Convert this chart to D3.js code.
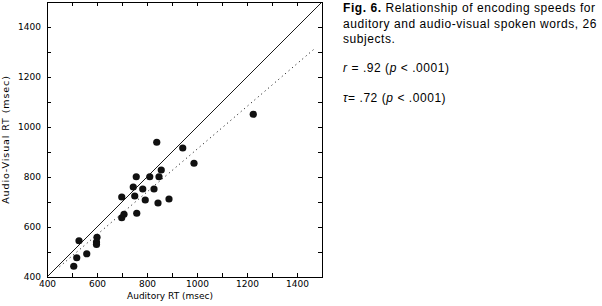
<!DOCTYPE html>
<html>
<head>
<meta charset="utf-8">
<script src="https://cdn.jsdelivr.net/npm/d3@7"></script>
<style>
  body { margin: 0; background: #fff; }
  svg { display: block; }
  .axis text { font-family: "DejaVu Sans", sans-serif; font-size: 9px; fill: #000; }
  .axis path, .axis line { stroke: #000; shape-rendering: crispEdges; }
  .axis-title { font-family: "DejaVu Sans", sans-serif; font-size: 9px; fill: #000; }
  .caption { font-family: "Liberation Sans", Arial, sans-serif; font-size: 12px; fill: #000; }
</style>
</head>
<body>
<script>
/*
 * Scatterplot of encoding speeds, auditory vs audio-visual words.
 */

// canvas and plot box
const CANVAS_WIDTH = 602;
const CANVAS_HEIGHT = 306;
const PLOT_LEFT = 47;
const PLOT_RIGHT = 322;
const PLOT_TOP = 2;
const PLOT_BOT = 277;
const DOT_RADIUS = 3.6;
const TICK_LEN = 4;

// caption block
const CAPTION_X = 343;
const CAPTION_WIDTH = 254;

// data (msec), one entry per subject
const auditoryRT = [507, 519, 528, 559, 600, 598, 598, 699, 699, 708, 745, 751,
  757, 759, 783, 793, 811, 828, 844, 848, 857, 888, 839, 943, 988, 1225];
const audioVisualRT = [443, 477, 545, 493, 559, 540, 530, 720, 637, 651, 760, 724,
  801, 655, 752, 708, 801, 752, 696, 801, 828, 712, 939, 916, 855, 1051];

// axis ticks
const AXIS_DOMAIN = [400, 1500];
const MINOR_TICKS = d3.range(400, 1501, 100);
const LABEL_TICKS = [400, 600, 800, 1000, 1200, 1400];

// identity line and dotted regression line (ends)
const identityX = [400, 1500];
const identityY = [400, 1500];
const fitX = [450, 1470];
const fitY = [441, 1313];

// caption
const captionLines = [
  'Relationship of encoding speeds for',
  'auditory and audio-visual spoken words, 26',
  'subjects.'
];
const statLines = [
  { sym: 'r', val: ' = .92 (' },
  { sym: 'τ', val: '= .72 (' }
];

const svg = d3.select('body')
  .append('svg')
    .attr('width', CANVAS_WIDTH)
    .attr('height', CANVAS_HEIGHT);

const xScale = d3.scaleLinear()
    .domain(AXIS_DOMAIN)
    .range([PLOT_LEFT, PLOT_RIGHT]);

const yScale = d3.scaleLinear()
    .domain(AXIS_DOMAIN)
    .range([PLOT_BOT, PLOT_TOP]);

const labelFmt = d => LABEL_TICKS.includes(d) ? d : '';

/*
 * Box with inward ticks on all four sides.
 */
const addAxes = () => {
  svg.append('g')
      .attr('class', 'axis')
      .attr('transform', `translate(0, ${PLOT_BOT})`)
      .call(d3.axisBottom(xScale)
        .tickValues(MINOR_TICKS)
        .tickFormat(labelFmt)
        .tickSize(-TICK_LEN)
        .tickSizeOuter(0)
        .tickPadding(4));

  svg.append('g')
      .attr('class', 'axis')
      .attr('transform', `translate(${PLOT_LEFT}, 0)`)
      .call(d3.axisLeft(yScale)
        .tickValues(MINOR_TICKS)
        .tickFormat(labelFmt)
        .tickSize(-TICK_LEN)
        .tickSizeOuter(0)
        .tickPadding(6));

  svg.append('g')
      .attr('class', 'axis')
      .attr('transform', `translate(0, ${PLOT_TOP})`)
      .call(d3.axisTop(xScale)
        .tickValues(MINOR_TICKS)
        .tickFormat('')
        .tickSize(-TICK_LEN)
        .tickSizeOuter(0));

  svg.append('g')
      .attr('class', 'axis')
      .attr('transform', `translate(${PLOT_RIGHT}, 0)`)
      .call(d3.axisRight(yScale)
        .tickValues(MINOR_TICKS)
        .tickFormat('')
        .tickSize(-TICK_LEN)
        .tickSizeOuter(0));

  // axis titles
  svg.append('text')
      .attr('class', 'axis-title')
      .attr('x', 170)
      .attr('y', 299)
      .attr('text-anchor', 'middle')
      .text('Auditory RT (msec)');

  svg.append('text')
      .attr('class', 'axis-title')
      .attr('transform', `translate(9, ${(PLOT_TOP + PLOT_BOT) / 2}) rotate(-90)`)
      .attr('text-anchor', 'middle')
      .style('font-size', '9.5px')
      .style('letter-spacing', '0.9px')
      .text('Audio-Visual RT (msec)');
};

/*
 * Reference lines and the data points.
 */
const addMarks = () => {
  const line = d3.line()
      .x(d => xScale(d[0]))
      .y(d => yScale(d[1]));

  svg.append('path')
      .datum(d3.zip(identityX, identityY))
      .attr('d', line)
      .attr('fill', 'none')
      .attr('stroke', '#000')
      .attr('stroke-width', 0.9);

  svg.append('path')
      .datum(d3.zip(fitX, fitY))
      .attr('d', line)
      .attr('fill', 'none')
      .attr('stroke', '#000')
      .attr('stroke-width', 1)
      .attr('stroke-dasharray', '1,3.5');

  svg.append('g')
    .selectAll('circle')
    .data(d3.zip(auditoryRT, audioVisualRT))
    .enter()
    .append('circle')
      .attr('cx', d => xScale(d[0]))
      .attr('cy', d => yScale(d[1]))
      .attr('r', DOT_RADIUS)
      .attr('fill', '#111');
};

/*
 * Figure caption at the right.
 */
const addCaption = () => {
  const cap = svg.append('text')
      .attr('class', 'caption')
      .attr('x', CAPTION_X)
      .attr('y', 12);
  cap.append('tspan')
      .attr('font-weight', 'bold')
      .text('Fig. 6.');
  cap.append('tspan')
      .text('  ' + captionLines[0]);

  captionLines.slice(1).forEach((t, i) => {
    svg.append('text')
        .attr('class', 'caption')
        .attr('x', CAPTION_X)
        .attr('y', 27.5 + i * 15.5)
        .text(t);
  });

  statLines.forEach((s, i) => {
    const t = svg.append('text')
        .attr('class', 'caption')
        .attr('x', CAPTION_X)
        .attr('y', 72 + i * 30);
    t.append('tspan').attr('font-style', 'italic').text(s.sym);
    t.append('tspan').text(s.val);
    t.append('tspan').attr('font-style', 'italic').text('p');
    t.append('tspan').text(' < .0001)');
  });

  // the original uses a wide bitmap face: spread letters so the
  // longest line fills the caption block
  const widest = svg.selectAll('.caption').nodes()[1];
  const n = captionLines[1].length;
  const spacing = Math.max(0, (CAPTION_WIDTH - widest.getComputedTextLength()) / n);
  svg.selectAll('.caption').style('letter-spacing', `${spacing}px`);
};

addMarks();
addAxes();
addCaption();
</script>
</body>
</html>
